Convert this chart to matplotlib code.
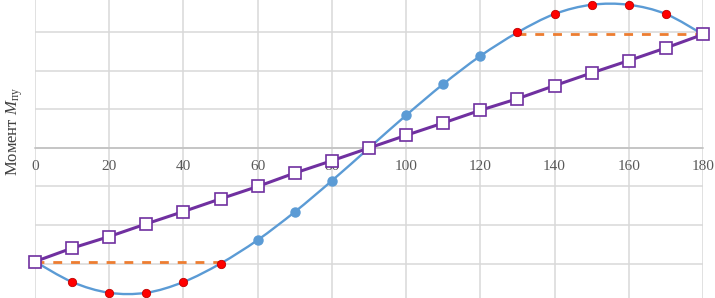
import numpy as np
import matplotlib
matplotlib.use("Agg")
import matplotlib.pyplot as plt
from matplotlib.path import Path
from matplotlib.patches import PathPatch

plt.rcParams['font.family'] = ['Liberation Serif', 'DejaVu Serif']
plt.rcParams['mathtext.fontset'] = 'custom'
plt.rcParams['mathtext.rm'] = 'Liberation Serif'
plt.rcParams['mathtext.it'] = 'Liberation Serif:italic'

# data
angles = [0, 10, 20, 30, 40, 50, 60, 70, 80, 90, 100, 110, 120, 130, 140, 150, 160, 170, 180]
moment_curve = [-2.95, -3.48, -3.76, -3.76, -3.48, -3.0, -2.39, -1.66, -0.85, 0.0,
                0.85, 1.66, 2.39, 3.0, 3.48, 3.72, 3.72, 3.48, 2.95]
moment_linear = [-2.95, -2.6, -2.3, -1.97, -1.65, -1.32, -1.0, -0.65, -0.33, 0.0,
                 0.33, 0.65, 0.98, 1.28, 1.62, 1.95, 2.27, 2.6, 2.95]
red_idx = [1, 2, 3, 4, 5, 13, 14, 15, 16, 17]
blue_idx = [6, 7, 8, 9, 10, 11, 12]
dash_left_x = [0, 50]
dash_left_y = [-2.95, -2.95]
dash_right_x = [130, 180]
dash_right_y = [2.95, 2.95]
xticks = [0, 20, 40, 60, 80, 100, 120, 140, 160, 180]
ylabel = "Момент $M_{\\mathrm{пу}}$"

W, H = 715, 298
fig = plt.figure(figsize=(W / 100, H / 100), dpi=100)
ax = fig.add_axes([35 / W, 0, (703 - 35) / W, 1])
ax.set_xlim(0, 180)
ax.set_ylim(-150 / 38.5, 148 / 38.5)

# grid
ax.set_xticks(xticks)
ax.set_xticklabels([str(t) for t in xticks])
ax.set_yticks([-3, -2, -1, 0, 1, 2, 3])
ax.grid(True, color='#d9d9d9', lw=1.1)
ax.set_axisbelow(True)
for s in ['left', 'right', 'top']:
    ax.spines[s].set_visible(False)
ax.spines['bottom'].set_position(('data', 0))
ax.spines['bottom'].set_color('#bfbfbf')
ax.spines['bottom'].set_linewidth(1.1)
ax.tick_params(axis='x', length=0, pad=9, labelsize=11, labelcolor='#595959')
ax.tick_params(axis='y', length=0, labelleft=False)

# smooth curve (Catmull-Rom -> Bezier)
x = np.array(angles, float)
y = np.array(moment_curve, float)
verts = [(x[0], y[0])]
codes = [Path.MOVETO]
n = len(x)
for i in range(n - 1):
    p0 = np.array([x[max(i - 1, 0)], y[max(i - 1, 0)]])
    p1 = np.array([x[i], y[i]])
    p2 = np.array([x[i + 1], y[i + 1]])
    p3 = np.array([x[min(i + 2, n - 1)], y[min(i + 2, n - 1)]])
    c1 = p1 + (p2 - p0) / 6
    c2 = p2 - (p3 - p1) / 6
    verts += [tuple(c1), tuple(c2), tuple(p2)]
    codes += [Path.CURVE4] * 3
ax.add_patch(PathPatch(Path(verts, codes), fill=False, edgecolor='#5B9BD5', lw=1.7,
                       zorder=3, clip_on=False))

# dashed lines
ax.plot(dash_left_x, dash_left_y, color='#ED7D31', lw=2, dashes=(3.2, 3.2), zorder=4, clip_on=False)
ax.plot(dash_right_x, dash_right_y, color='#ED7D31', lw=2, dashes=(3.2, 3.2), zorder=4, clip_on=False)

# markers on curve
ax.plot([angles[i] for i in blue_idx], [moment_curve[i] for i in blue_idx], 'o', ms=6.5,
        color='#5B9BD5', mec='#5B9BD5', zorder=5, clip_on=False)
ax.plot([angles[i] for i in red_idx], [moment_curve[i] for i in red_idx], 'o', ms=6,
        color='#FF0000', mec='#C00000', mew=0.6, zorder=5, clip_on=False)

# linear series
ax.plot(angles, moment_linear, '-', color='#7030A0', lw=2.2, zorder=6, clip_on=False)
ax.plot(angles, moment_linear, 's', ms=9.3, mfc='white', mec='#7030A0', mew=1.2,
        zorder=7, clip_on=False)

fig.text(15 / W, 1 - 131 / H, ylabel, rotation=90, ha='center', va='center',
         fontsize=12, color='#404040')

fig.savefig('out.png', dpi=100)
